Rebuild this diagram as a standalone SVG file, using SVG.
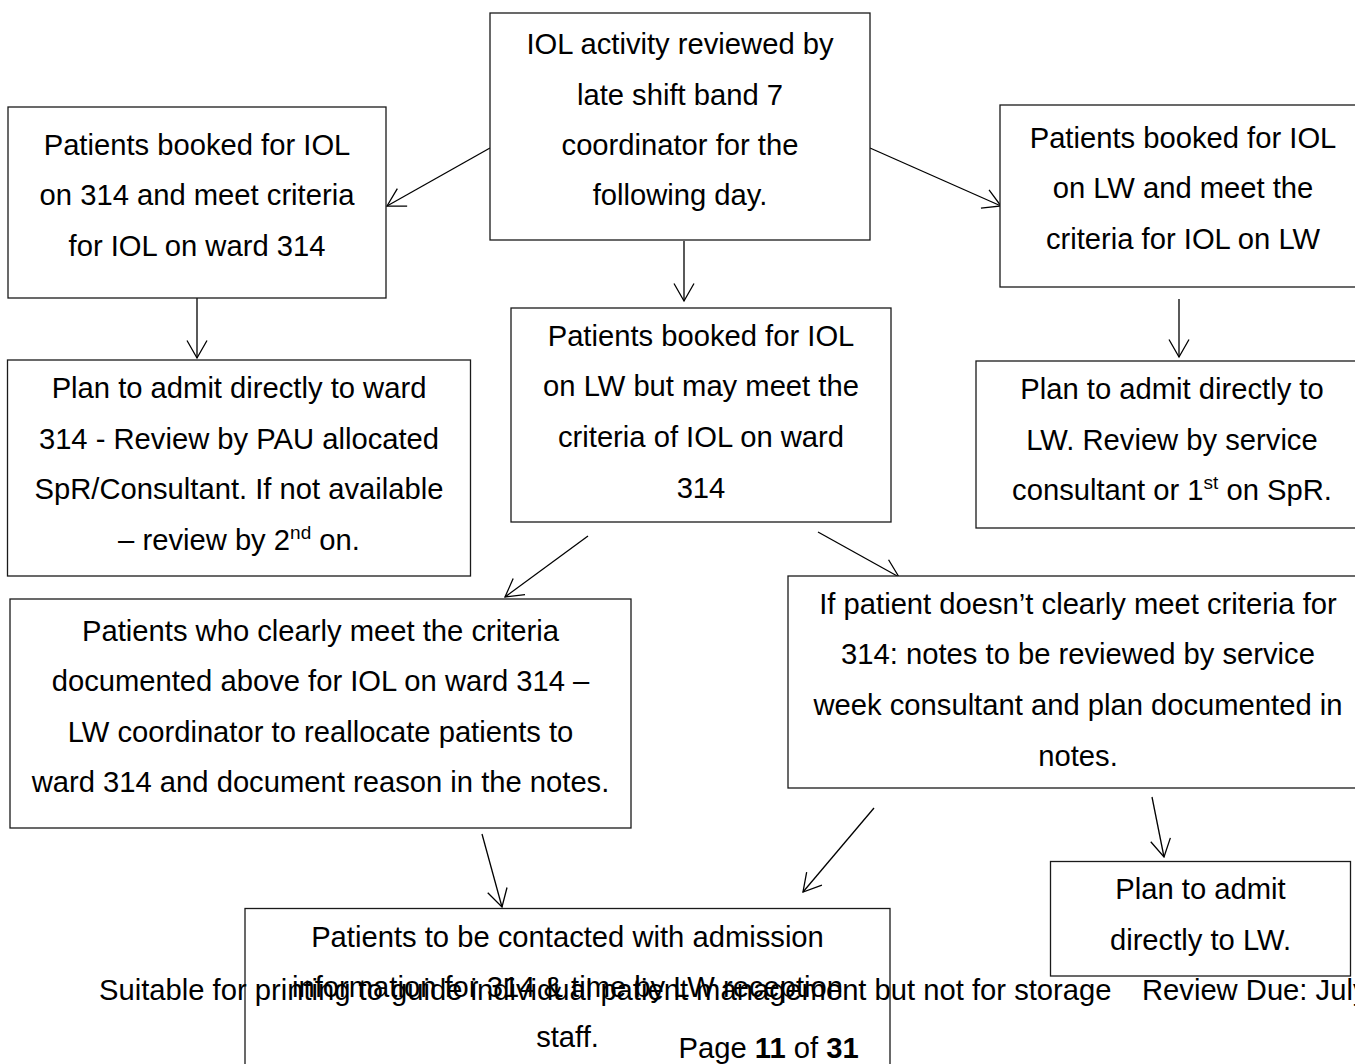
<svg xmlns="http://www.w3.org/2000/svg" width="1355" height="1064" viewBox="0 0 1355 1064">
<style>
.box{fill:#fff;stroke:#1a1a1a;stroke-width:1.3}
.t{font-family:"Liberation Sans",Arial,sans-serif;font-size:29.2px;fill:#000;text-anchor:middle}
.f{font-family:"Liberation Sans",Arial,sans-serif;font-size:29.2px;fill:#000}
.sup{font-size:19px}
.c{stroke:#000;stroke-width:1.3;fill:none;marker-end:url(#ah)}
</style>
<defs>
<marker id="ah" markerUnits="userSpaceOnUse" viewBox="0 0 20 22" refX="18.5" refY="11" markerWidth="20" markerHeight="22" orient="auto">
<path d="M1,1 L18.5,11 L1,21" fill="none" stroke="#000" stroke-width="1.3"/>
</marker>
</defs>
<rect width="1355" height="1064" fill="#fff"/>

<g id="connectors">
<line class="c" x1="490" y1="148" x2="387" y2="206"/>
<line class="c" x1="684" y1="241" x2="684" y2="301"/>
<line class="c" x1="870" y1="148" x2="1001" y2="206"/>
<line class="c" x1="197" y1="298" x2="197" y2="358"/>
<line class="c" x1="1179" y1="299" x2="1179" y2="357"/>
<line class="c" x1="588" y1="536" x2="505" y2="597"/>
<line class="c" x1="818" y1="532" x2="899" y2="577"/>
<line class="c" x1="482" y1="834" x2="502" y2="907"/>
<line class="c" x1="874" y1="808" x2="803" y2="892"/>
<line class="c" x1="1152" y1="797" x2="1164" y2="857"/>
</g>

<g id="n-review">
<rect class="box" x="490" y="13" width="380" height="227"/>
<text class="t" x="680" y="54">IOL activity reviewed by</text>
<text class="t" x="680" y="104.5">late shift band 7</text>
<text class="t" x="680" y="155">coordinator for the</text>
<text class="t" x="680" y="205">following day.</text>
</g>

<g id="n-314-booked">
<rect class="box" x="8" y="107" width="378" height="191"/>
<text class="t" x="197" y="155">Patients booked for IOL</text>
<text class="t" x="197" y="205">on 314 and meet criteria</text>
<text class="t" x="197" y="255.5">for IOL on ward 314</text>
</g>

<g id="n-lw-booked">
<rect class="box" x="1000" y="105" width="368" height="182"/>
<text class="t" x="1183" y="148">Patients booked for IOL</text>
<text class="t" x="1183" y="198">on LW and meet the</text>
<text class="t" x="1183" y="248.5">criteria for IOL on LW</text>
</g>

<g id="n-admit-314">
<rect class="box" x="7.5" y="360" width="463" height="216"/>
<text class="t" x="239" y="397.5">Plan to admit directly to ward</text>
<text class="t" x="239" y="448.5">314 - Review by PAU allocated</text>
<text class="t" x="239" y="498.5">SpR/Consultant. If not available</text>
<text class="t" x="239" y="549.5">– review by 2<tspan class="sup" dy="-11">nd</tspan><tspan dy="11"> on.</tspan></text>
</g>

<g id="n-lw-may">
<rect class="box" x="511" y="308" width="380" height="214"/>
<text class="t" x="701" y="346">Patients booked for IOL</text>
<text class="t" x="701" y="396">on LW but may meet the</text>
<text class="t" x="701" y="447">criteria of IOL on ward</text>
<text class="t" x="701" y="497.5">314</text>
</g>

<g id="n-admit-lw">
<rect class="box" x="976" y="361" width="392" height="167"/>
<text class="t" x="1172" y="398.5">Plan to admit directly to</text>
<text class="t" x="1172" y="449.5">LW. Review by service</text>
<text class="t" x="1172" y="500">consultant or 1<tspan class="sup" dy="-11">st</tspan><tspan dy="11"> on SpR.</tspan></text>
</g>

<g id="n-clearly">
<rect class="box" x="10" y="599" width="621" height="229"/>
<text class="t" x="320.5" y="640.5">Patients who clearly meet the criteria</text>
<text class="t" x="320.5" y="691">documented above for IOL on ward 314 –</text>
<text class="t" x="320.5" y="741.5">LW coordinator to reallocate patients to</text>
<text class="t" x="320.5" y="792">ward 314 and document reason in the notes.</text>
</g>

<g id="n-not-clearly">
<rect class="box" x="788" y="576" width="580" height="212"/>
<text class="t" x="1078" y="613.5">If patient doesn’t clearly meet criteria for</text>
<text class="t" x="1078" y="664">314: notes to be reviewed by service</text>
<text class="t" x="1078" y="715">week consultant and plan documented in</text>
<text class="t" x="1078" y="765.5">notes.</text>
</g>

<g id="n-admit-lw-2">
<rect class="box" x="1050.5" y="861.5" width="300" height="114.5"/>
<text class="t" x="1200.5" y="898.5">Plan to admit</text>
<text class="t" x="1200.5" y="949.5">directly to LW.</text>
</g>

<g id="n-contact">
<rect class="box" x="245" y="908.5" width="645" height="180"/>
<text class="t" x="567.5" y="946.5">Patients to be contacted with admission</text>
<text class="t" x="567.5" y="997">information for 314 &amp; time by LW reception</text>
<text class="t" x="567.5" y="1047">staff.</text>
</g>

<g id="footer">
<text class="f" x="99" y="1000">Suitable for printing to guide individual patient management but not for storage</text>
<text class="f" x="1142" y="1000">Review Due: July</text>
<text class="f" x="678.5" y="1058">Page <tspan font-weight="bold">11</tspan> of <tspan font-weight="bold">31</tspan></text>
</g>
</svg>
